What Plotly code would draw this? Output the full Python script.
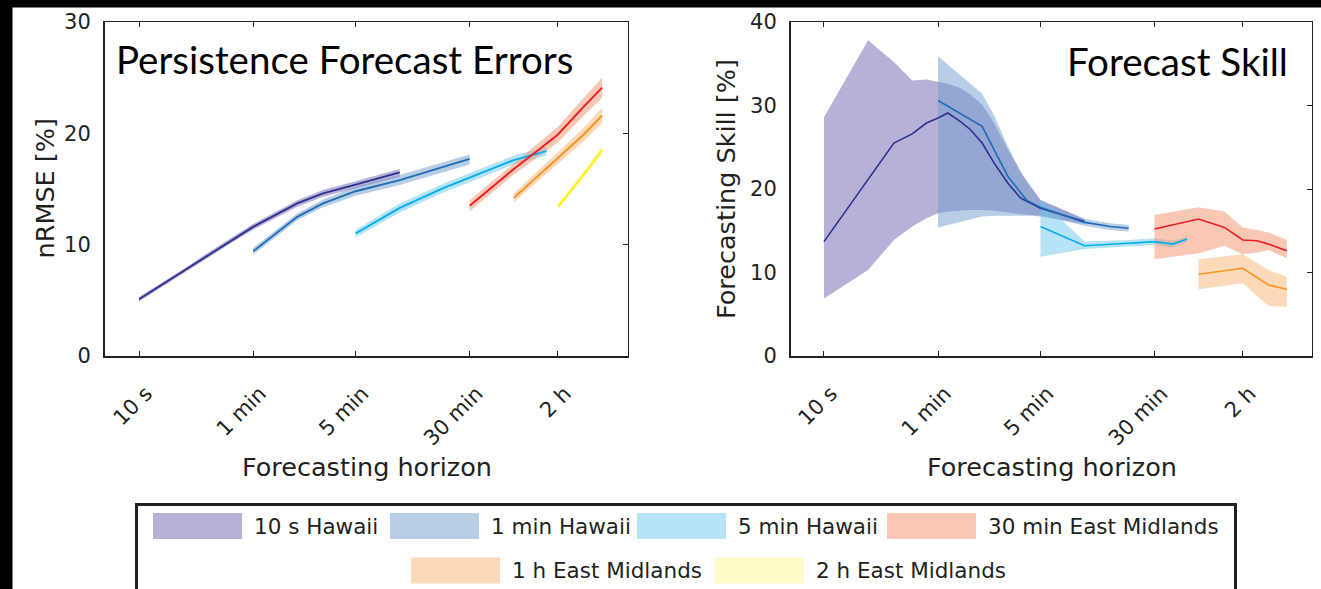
import plotly.graph_objects as go

# ---------------------------------------------------------------- data
# forecast horizons are in seconds, plotted on log-scaled x axes
TICK_VALS = [10, 60, 300, 1800, 7200]
TICK_TEXT = ["10 s", "1 min", "5 min", "30 min", "2 h"]

SERIES = ["10 s Hawaii", "1 min Hawaii", "5 min Hawaii",
          "30 min East Midlands", "1 h East Midlands", "2 h East Midlands"]

# persistence forecast nRMSE [%]: horizon, mean, lower, upper
ERR_T_10S = [10, 20, 30, 45, 60, 120, 180, 300, 600]
ERR_10S = [5.1, 7.6, 9.1, 10.6, 11.6, 13.7, 14.6, 15.4, 16.5]
ERR_10S_LO = [4.9, 7.4, 8.85, 10.35, 11.35, 13.4, 14.3, 15.1, 16.1]
ERR_10S_HI = [5.3, 7.8, 9.35, 10.85, 11.85, 14.0, 14.9, 15.7, 16.8]

ERR_T_1MIN = [60, 120, 180, 300, 600, 1800]
ERR_1MIN = [9.4, 12.5, 13.7, 14.8, 15.8, 17.7]
ERR_1MIN_LO = [9.1, 12.2, 13.35, 14.4, 15.35, 17.2]
ERR_1MIN_HI = [9.7, 12.8, 14.05, 15.2, 16.25, 18.1]

ERR_T_5MIN = [300, 600, 1200, 1800, 3000, 3600, 6000]
ERR_5MIN = [11.0, 13.3, 15.1, 16.0, 17.2, 17.6, 18.4]
ERR_5MIN_LO = [10.65, 12.9, 14.7, 15.6, 16.8, 17.2, 18.0]
ERR_5MIN_HI = [11.35, 13.7, 15.5, 16.4, 17.6, 18.0, 18.8]

ERR_T_30MIN = [1800, 3600, 5400, 7200, 10800, 14400]
ERR_30MIN = [13.5, 16.8, 18.6, 19.9, 22.4, 24.1]
ERR_30MIN_LO = [13.0, 16.3, 18.0, 19.2, 21.6, 23.2]
ERR_30MIN_HI = [14.0, 17.3, 19.2, 20.6, 23.2, 25.0]

ERR_T_1H = [3600, 7200, 10800, 14400]
ERR_1H = [14.2, 17.8, 19.9, 21.6]
ERR_1H_LO = [13.8, 17.3, 19.3, 20.9]
ERR_1H_HI = [14.6, 18.3, 20.5, 22.3]

ERR_T_2H = [7200, 10800, 14400]
ERR_2H = [13.4, 16.3, 18.5]
ERR_2H_LO = [13.1, 15.95, 18.0]
ERR_2H_HI = [13.7, 16.65, 19.0]

# forecast skill [%]: horizon, mean, lower, upper
SKILL_T_10S = [10, 20, 30, 40, 50, 60, 70, 85, 100, 120, 145, 180, 220, 300, 600]
SKILL_10S = [13.7, 21.1, 25.5, 26.6, 27.9, 28.5, 29.1, 28.1, 27.1, 25.5, 23.1, 20.7, 18.9, 17.7, 16.1]
SKILL_10S_LO = [6.9, 10.3, 13.9, 15.5, 16.5, 17.1, 17.3, 17.4, 17.5, 17.5, 17.4, 17.2, 17.0, 16.7, 15.8]
SKILL_10S_HI = [28.6, 37.8, 35.2, 33.0, 33.1, 32.8, 32.6, 32.1, 31.3, 30.1, 27.9, 24.7, 22.0, 18.7, 16.4]

SKILL_T_1MIN = [60, 120, 145, 180, 240, 300, 600, 900, 1200]
SKILL_1MIN = [30.6, 27.5, 24.7, 21.5, 18.7, 17.8, 16.0, 15.5, 15.3]
SKILL_1MIN_LO = [15.4, 16.7, 16.8, 16.8, 16.8, 16.9, 15.6, 15.1, 14.9]
SKILL_1MIN_HI = [35.9, 31.4, 28.8, 25.1, 20.8, 18.6, 16.4, 15.9, 15.7]

SKILL_T_5MIN = [300, 600, 1200, 1800, 2400, 3000]
SKILL_5MIN = [15.5, 13.2, 13.5, 13.7, 13.4, 14.0]
SKILL_5MIN_LO = [11.9, 12.8, 13.1, 13.3, 13.0, 13.7]
SKILL_5MIN_HI = [18.7, 13.7, 13.9, 14.1, 13.8, 14.3]

SKILL_T_30MIN = [1800, 3600, 5400, 7200, 9000, 10800, 14400]
SKILL_30MIN = [15.2, 16.4, 15.4, 13.9, 13.8, 13.4, 12.6]
SKILL_30MIN_LO = [11.6, 12.3, 13.2, 12.2, 12.4, 12.7, 11.7]
SKILL_30MIN_HI = [16.9, 17.8, 17.3, 15.4, 15.1, 14.8, 13.9]

SKILL_T_1H = [3600, 7200, 10800, 14400]
SKILL_1H = [9.8, 10.5, 8.5, 8.0]
SKILL_1H_LO = [8.0, 8.7, 6.0, 5.9]
SKILL_1H_HI = [11.6, 12.2, 10.3, 9.5]

# ---------------------------------------------------------------- styles
LINE_COLORS = ["#2e3192", "#1f6db5", "#00aeef", "#ed1c24", "#f7941d", "#fff200"]
BAND_COLORS = ["rgba(112,100,175,0.5)", "rgba(113,155,205,0.5)",
               "rgba(110,200,236,0.5)", "rgba(243,145,105,0.5)",
               "rgba(247,180,115,0.5)", "rgba(255,245,145,0.5)"]
AXIS_COLOR = "#231f20"
SANS = "DejaVu Sans"
TITLE_FONT = "Lato"

W, H = 1321, 589


def px(x):
    return x / W


def py(y):
    return 1 - y / H


ERR_PANEL = [
    (ERR_T_10S, ERR_10S, ERR_10S_LO, ERR_10S_HI),
    (ERR_T_1MIN, ERR_1MIN, ERR_1MIN_LO, ERR_1MIN_HI),
    (ERR_T_5MIN, ERR_5MIN, ERR_5MIN_LO, ERR_5MIN_HI),
    (ERR_T_30MIN, ERR_30MIN, ERR_30MIN_LO, ERR_30MIN_HI),
    (ERR_T_1H, ERR_1H, ERR_1H_LO, ERR_1H_HI),
    (ERR_T_2H, ERR_2H, ERR_2H_LO, ERR_2H_HI),
]
SKILL_PANEL = [
    (SKILL_T_10S, SKILL_10S, SKILL_10S_LO, SKILL_10S_HI),
    (SKILL_T_1MIN, SKILL_1MIN, SKILL_1MIN_LO, SKILL_1MIN_HI),
    (SKILL_T_5MIN, SKILL_5MIN, SKILL_5MIN_LO, SKILL_5MIN_HI),
    (SKILL_T_30MIN, SKILL_30MIN, SKILL_30MIN_LO, SKILL_30MIN_HI),
    (SKILL_T_1H, SKILL_1H, SKILL_1H_LO, SKILL_1H_HI),
    None,
]

fig = go.Figure()


def add_panel(panel, xa, ya, width):
    # shaded ranges first, mean lines on top
    for i, s in enumerate(panel):
        if s is None:
            continue
        t, m, lo, hi = s
        fig.add_trace(go.Scatter(
            x=list(t) + list(t)[::-1], y=list(hi) + list(lo)[::-1],
            fill="toself", fillcolor=BAND_COLORS[i], line=dict(width=0),
            mode="lines", xaxis=xa, yaxis=ya, showlegend=False,
            hoverinfo="skip"))
    for i, s in enumerate(panel):
        if s is None:
            continue
        t, m, lo, hi = s
        fig.add_trace(go.Scatter(
            x=t, y=m, mode="lines", name=SERIES[i],
            line=dict(color=LINE_COLORS[i], width=width),
            xaxis=xa, yaxis=ya, showlegend=False))


add_panel(ERR_PANEL, "x", "y", 1.9)
add_panel(SKILL_PANEL, "x2", "y2", 1.6)

# empty traces that bind the mirrored (top / right) frame axes
for xa, ya in [("x3", "y"), ("x", "y3"), ("x4", "y2"), ("x2", "y4")]:
    fig.add_trace(go.Scatter(x=[None], y=[None], xaxis=xa, yaxis=ya,
                             showlegend=False, hoverinfo="skip"))

DOM_Y = [py(356), py(22)]
DOM_L = [px(105), px(628)]
DOM_R = [px(791), px(1312)]
RANGE_L = [0.768, 4.335]
RANGE_R = [0.775, 4.330]

tick_font = dict(family=SANS, size=21, color=AXIS_COLOR)


def x_main(dom, rng, anchor):
    return dict(domain=dom, type="log", range=rng, tickvals=TICK_VALS,
                ticktext=TICK_TEXT, tickangle=-45, ticks="inside", ticklen=5,
                tickwidth=1, tickcolor=AXIS_COLOR, showline=True, linewidth=2,
                linecolor=AXIS_COLOR, showgrid=False, zeroline=False,
                tickfont=tick_font, anchor=anchor, ticklabelstandoff=15,
                ticklabelshift=7, automargin=False)


def x_top(over, rng, anchor):
    return dict(overlaying=over, side="top", type="log", range=rng,
                tickvals=TICK_VALS, ticks="inside", ticklen=5, tickwidth=1,
                tickcolor=AXIS_COLOR, showticklabels=False, showline=True,
                linewidth=1, linecolor=AXIS_COLOR, showgrid=False,
                zeroline=False, anchor=anchor, automargin=False)


def y_main(rng, vals, anchor):
    return dict(domain=DOM_Y, range=rng, tickvals=vals, ticks="",
                showline=True, linewidth=2, linecolor=AXIS_COLOR,
                showgrid=False, zeroline=False, tickfont=tick_font,
                anchor=anchor, ticklabelstandoff=8, automargin=False)


def y_right(over, rng, vals, anchor):
    return dict(overlaying=over, side="right", range=rng, tickvals=vals,
                ticks="inside", ticklen=5, tickwidth=1, tickcolor=AXIS_COLOR,
                showticklabels=False, showline=True, linewidth=1,
                linecolor=AXIS_COLOR, showgrid=False, zeroline=False,
                anchor=anchor, automargin=False)


ERR_YTICKS = [0, 10, 20, 30]
SKILL_YTICKS = [0, 10, 20, 30, 40]

fig.update_layout(
    width=W, height=H, autosize=False,
    margin=dict(l=0, r=0, t=0, b=0, pad=0, autoexpand=False),
    paper_bgcolor="white", plot_bgcolor="rgba(0,0,0,0)",
    showlegend=False,
    xaxis=x_main(DOM_L, RANGE_L, "y"),
    yaxis=y_main([0, 30], ERR_YTICKS, "x"),
    xaxis2=x_main(DOM_R, RANGE_R, "y2"),
    yaxis2=y_main([0, 40], SKILL_YTICKS, "x2"),
    xaxis3=x_top("x", RANGE_L, "y"),
    yaxis3=y_right("y", [0, 30], ERR_YTICKS, "x"),
    xaxis4=x_top("x2", RANGE_R, "y2"),
    yaxis4=y_right("y2", [0, 40], SKILL_YTICKS, "x2"),
)

ann = []
label_font = dict(family=SANS, size=25.5, color=AXIS_COLOR)


def text_at(text, x, y, font, xanchor="center", angle=0):
    ann.append(dict(text=text, x=px(x), y=py(y), xref="paper", yref="paper",
                    xanchor=xanchor, yanchor="middle", textangle=angle,
                    showarrow=False, font=font))


text_at("nRMSE [%]", 44.5, 189, label_font, angle=-90)
text_at("Forecasting Skill [%]", 726, 189, label_font, angle=-90)
for cx in (366.5, 1051.5):
    text_at("Forecasting horizon", cx, 467, label_font)

title_font = dict(family=TITLE_FONT, size=38.5, color="black")
text_at("Persistence Forecast Errors", 114, 59, title_font, xanchor="left")
text_at("Forecast Skill", 1290, 61, title_font, xanchor="right")

# legend: swatch boxes and names, two centred rows
LEG_SWATCH_X = [153, 390, 637, 887, 411, 715]
LEG_ROW_Y = [526, 570.5]
LEG_ROW = [0, 0, 0, 0, 1, 1]
SWATCH_W, SWATCH_H = 89, 26
shapes = []
leg_font = dict(family=SANS, size=21.5, color=AXIS_COLOR)
for i, name in enumerate(SERIES):
    x0 = LEG_SWATCH_X[i]
    cy = LEG_ROW_Y[LEG_ROW[i]]
    shapes.append(dict(type="rect", xref="paper", yref="paper",
                       x0=px(x0), x1=px(x0 + SWATCH_W),
                       y0=py(cy - SWATCH_H / 2), y1=py(cy + SWATCH_H / 2),
                       fillcolor=BAND_COLORS[i], line=dict(width=0)))
    text_at(name, x0 + SWATCH_W + 10, cy, leg_font, xanchor="left")

shapes.append(dict(type="rect", xref="paper", yref="paper",
                   x0=px(136.5), x1=px(1235.5), y0=py(504.5), y1=py(600),
                   line=dict(color=AXIS_COLOR, width=3),
                   fillcolor="rgba(0,0,0,0)"))

# dark frame strips along the top and left edges
shapes.append(dict(type="rect", xref="paper", yref="paper", x0=0, x1=1,
                   y0=py(7.5), y1=1, fillcolor="black", line=dict(width=0),
                   layer="above"))
shapes.append(dict(type="rect", xref="paper", yref="paper", x0=0,
                   x1=px(12.5), y0=0, y1=1, fillcolor="black",
                   line=dict(width=0), layer="above"))

fig.update_layout(annotations=ann, shapes=shapes)
fig.write_html("out.html")
